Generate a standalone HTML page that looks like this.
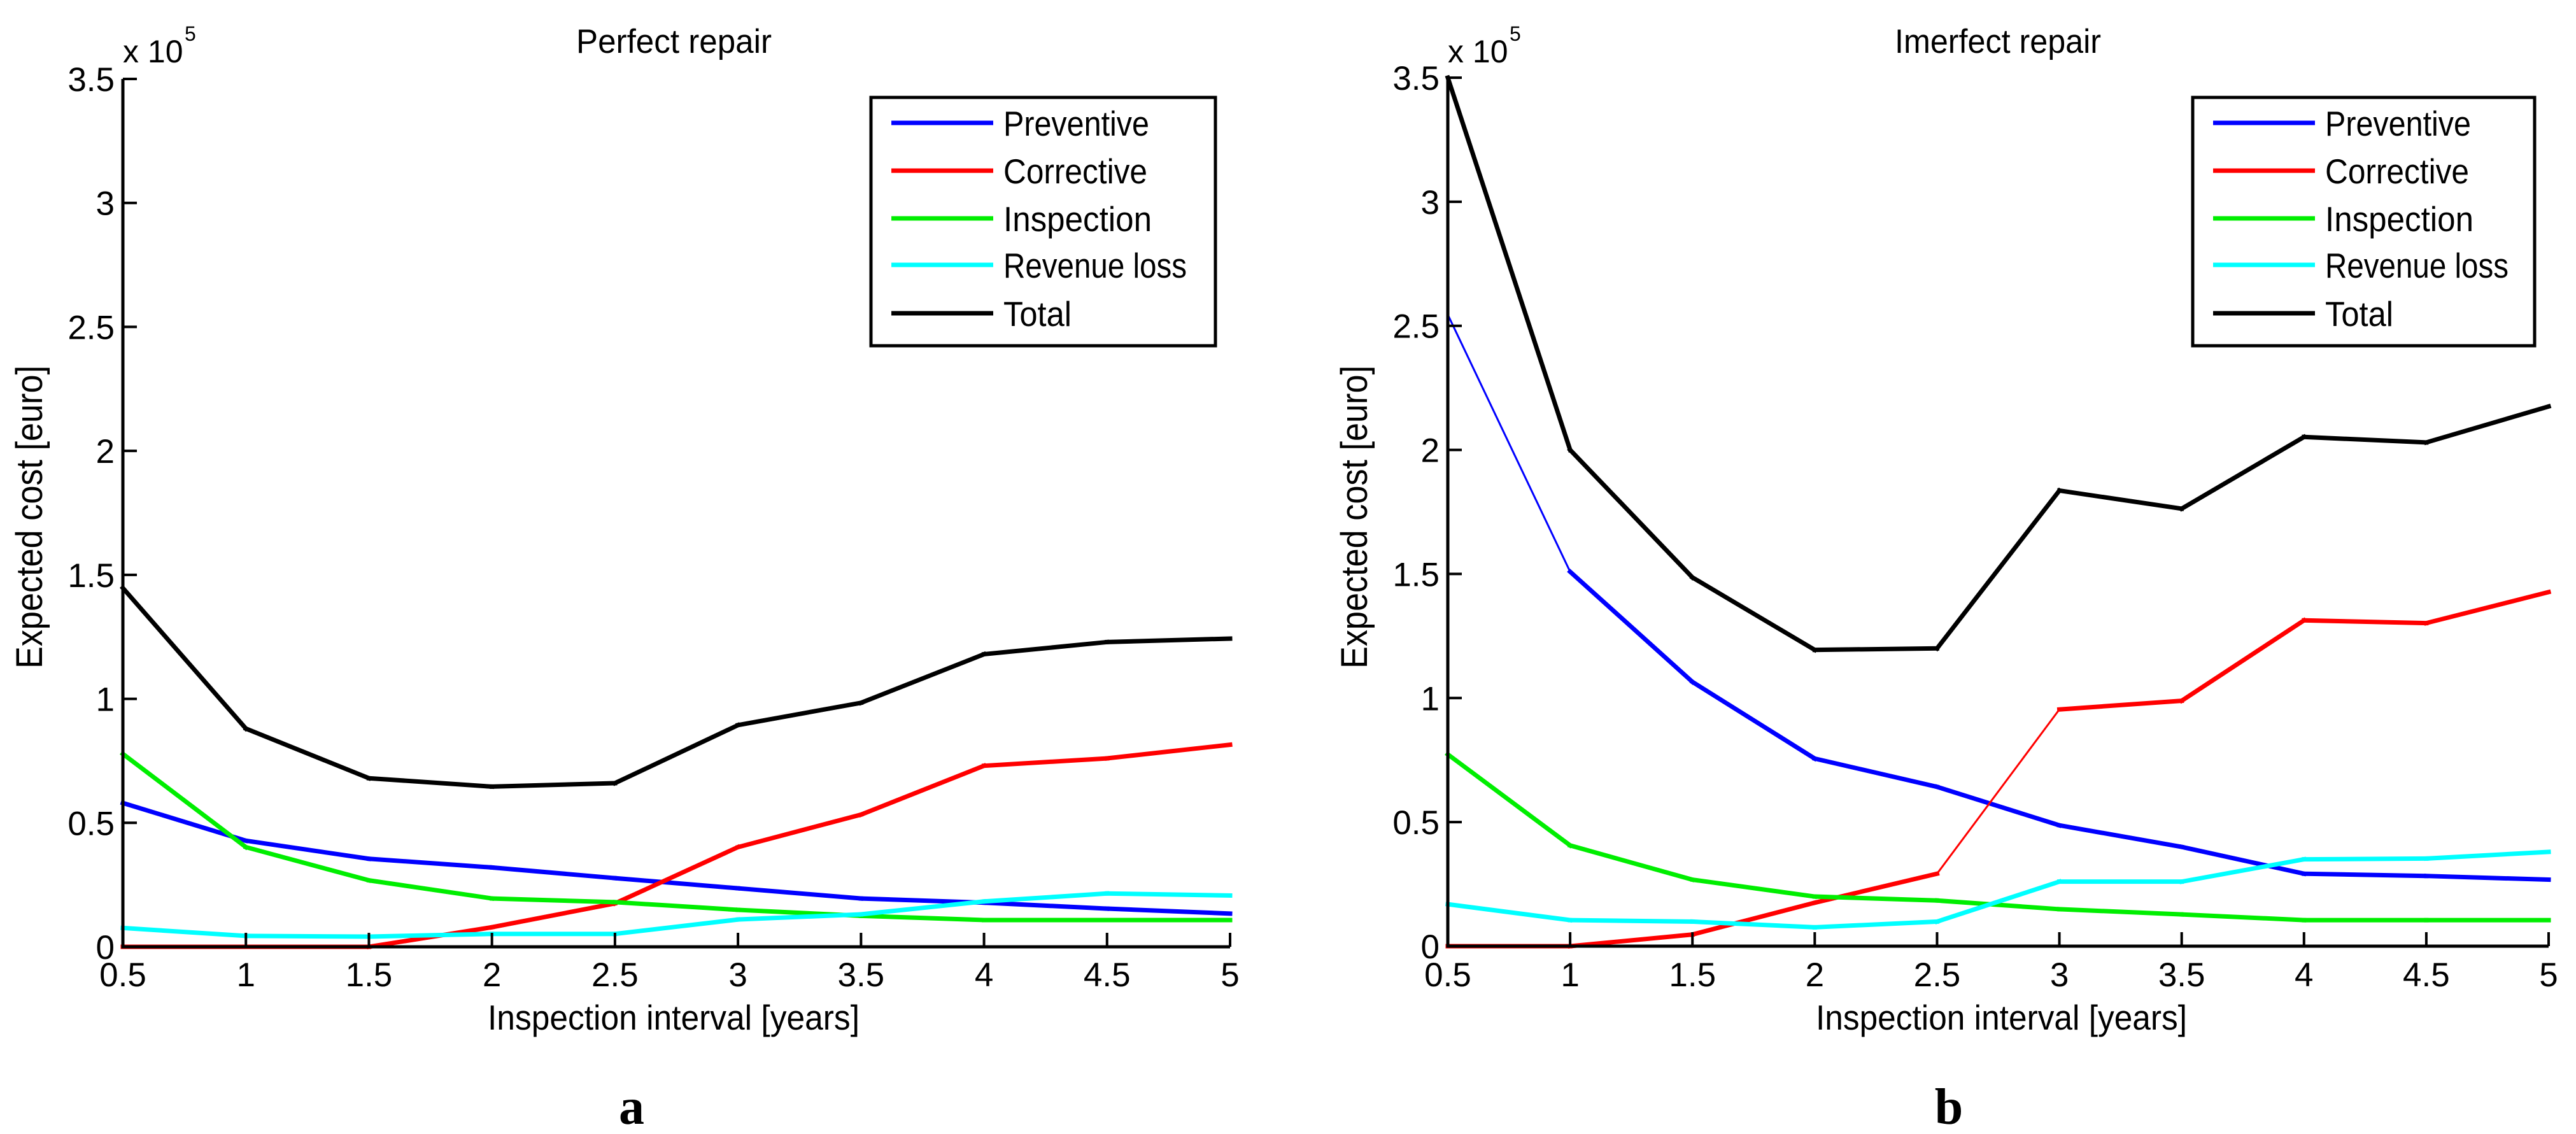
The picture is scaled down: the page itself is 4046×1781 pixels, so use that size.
<!DOCTYPE html>
<html><head><meta charset="utf-8">
<style>
html,body{margin:0;padding:0;background:#fff;}
svg{display:block;}
text{font-family:"Liberation Sans",sans-serif;fill:#000;}
</style></head>
<body>
<svg id="fig" width="4046" height="1781" viewBox="0 0 4046 1781" xmlns="http://www.w3.org/2000/svg">
<rect width="4046" height="1781" fill="#fff"/>
</svg>
<script>
const xValues = [0.5,1,1.5,2,2.5,3,3.5,4,4.5,5];
const xTickLabels = ["0.5","1","1.5","2","2.5","3","3.5","4","4.5","5"];
const yTickValues = [0,0.5,1,1.5,2,2.5,3,3.5];
const yTickLabels = ["0","0.5","1","1.5","2","2.5","3","3.5"];
const seriesNames = ["Preventive","Corrective","Inspection","Revenue loss","Total"];
const seriesColors = ["#0000ff","#ff0000","#00ee00","#00ffff","#000000"];
// Perfect repair (x 1e5 euro)
const aPreventive = [0.58,0.428,0.355,0.32,0.277,0.236,0.195,0.178,0.154,0.134];
const aCorrective = [0,0,0,0.079,0.175,0.402,0.533,0.73,0.76,0.815];
const aInspection = [0.778,0.402,0.268,0.195,0.18,0.149,0.125,0.108,0.108,0.108];
const aRevenue = [0.076,0.044,0.041,0.052,0.052,0.11,0.131,0.183,0.215,0.207];
const aTotal = [1.447,0.88,0.68,0.646,0.66,0.894,0.984,1.18,1.229,1.243];
// Imperfect repair
const bPreventive = [2.545,1.509,1.065,0.756,0.642,0.487,0.4,0.292,0.283,0.268];
const bCorrective = [0,0,0.047,0.175,0.292,0.954,0.989,1.313,1.302,1.427];
const bInspection = [0.773,0.406,0.268,0.2,0.184,0.149,0.128,0.105,0.105,0.105];
const bRevenue = [0.169,0.105,0.099,0.076,0.099,0.26,0.26,0.35,0.353,0.38];
const bTotal = [3.5,2.0,1.486,1.194,1.2,1.836,1.763,2.052,2.03,2.175];

const NS="http://www.w3.org/2000/svg";
const svg=document.getElementById('fig');
function mk(tag,attrs,parent){const e=document.createElementNS(NS,tag);for(const k in attrs)e.setAttribute(k,attrs[k]);(parent||svg).appendChild(e);return e;}

function drawPanel(cfg){
  const g=mk('g',{});
  
  
  const X=v=>cfg.x0+(v-0.5)/4.5*(cfg.x1-cfg.x0);
  const Y=v=>cfg.y0-v/3.5*(cfg.y0-cfg.yTop);
  const sers=[cfg.data[0],cfg.data[1],cfg.data[2],cfg.data[3],cfg.data[4]];
  for(let s=0;s<5;s++){
    for(let i=0;i<xValues.length-1;i++){
      const thin=cfg.thin.some(t=>t[0]===s&&t[1]===i);
      const l=mk('line',{x1:X(xValues[i]),y1:Y(sers[s][i]),x2:X(xValues[i+1]),y2:Y(sers[s][i+1]),stroke:seriesColors[s],'stroke-width':thin?3:7,'stroke-linecap':'square'},g);
      
      
    }
  }
  const ax=mk('path',{d:`M${cfg.x0} ${cfg.yTop} V${cfg.y0} H${cfg.x1}`,fill:'none',stroke:'#000','stroke-width':5},g);
  
  
  xValues.forEach((v,i)=>{
    mk('line',{x1:X(v),y1:cfg.y0,x2:X(v),y2:cfg.y0-22,stroke:'#000','stroke-width':4},g);
    const t=mk('text',{x:X(v),y:1549,'font-size':53,'text-anchor':'middle'},g);
    t.textContent=xTickLabels[i];
    
    
  });
  yTickValues.forEach((v,i)=>{
    mk('line',{x1:cfg.x0,y1:Y(v),x2:cfg.x0+22,y2:Y(v),stroke:'#000','stroke-width':4},g);
    const t=mk('text',{x:cfg.x0-13,y:Y(v)+19,'font-size':53,'text-anchor':'end'},g);
    t.textContent=yTickLabels[i];
    
    
  });
  const ex=mk('text',{x:cfg.x0,y:98,'font-size':50},g);
  ex.textContent='x 10';
  
  
  const ex5=mk('text',{x:cfg.x0+97,y:64,'font-size':32},g);
  ex5.textContent='5';
  
  
  const ti=mk('text',{x:cfg.titleX,y:83,'font-size':53,textLength:cfg.titleW,lengthAdjust:'spacingAndGlyphs'},g);
  ti.textContent=cfg.title;
  
  
  const xl=mk('text',{x:cfg.xlX,y:1617,'font-size':55,textLength:cfg.xlW,lengthAdjust:'spacingAndGlyphs'},g);
  xl.textContent='Inspection interval [years]';
  
  
  const yl=mk('text',{x:0,y:0,'font-size':58,'text-anchor':'middle',textLength:476,lengthAdjust:'spacingAndGlyphs',transform:`translate(${cfg.ylX},812) rotate(-90)`},g);
  yl.textContent='Expected cost [euro]';
  
  
  const lg=mk('g',{},g);
  
  
  mk('rect',{x:cfg.legX,y:153,width:cfg.legW,height:390,fill:'#fff',stroke:'#000','stroke-width':5},lg);
  const ys=[193,268,343,416,492];
  const lens=[229,226,233,288,107];
  seriesNames.forEach((n,i)=>{
    const e=mk('g',{},lg);
    
    
    mk('line',{x1:cfg.legX+32,y1:ys[i],x2:cfg.legX+192,y2:ys[i],stroke:seriesColors[i],'stroke-width':7},e);
    const t=mk('text',{x:cfg.legX+208,y:ys[i]+20,'font-size':55,textLength:lens[i],lengthAdjust:'spacingAndGlyphs'},e);
    t.textContent=n;
  });
  const L=mk('text',{x:cfg.letterX,y:1765,'font-size':80,'font-weight':'bold','text-anchor':'middle'},g);
  L.setAttribute('style','font-family:"Liberation Serif",serif');
  L.textContent=cfg.letter;
  
  
}
drawPanel({id:'perfect',x0:193,x1:1932,y0:1487,yTop:124,data:[aPreventive,aCorrective,aInspection,aRevenue,aTotal],thin:[],
  title:'Perfect repair',titleX:905,titleW:307,xlX:766,xlW:584,ylX:66,legX:1368,legW:541,letter:'a',letterX:992});
drawPanel({id:'imperfect',x0:2274,x1:4003,y0:1486,yTop:122,data:[bPreventive,bCorrective,bInspection,bRevenue,bTotal],thin:[[0,0],[1,4]],
  title:'Imerfect repair',titleX:2976,titleW:324,xlX:2852,xlW:583,ylX:2147,legX:3444,legW:537,letter:'b',letterX:3061});
</script>
</body></html>
